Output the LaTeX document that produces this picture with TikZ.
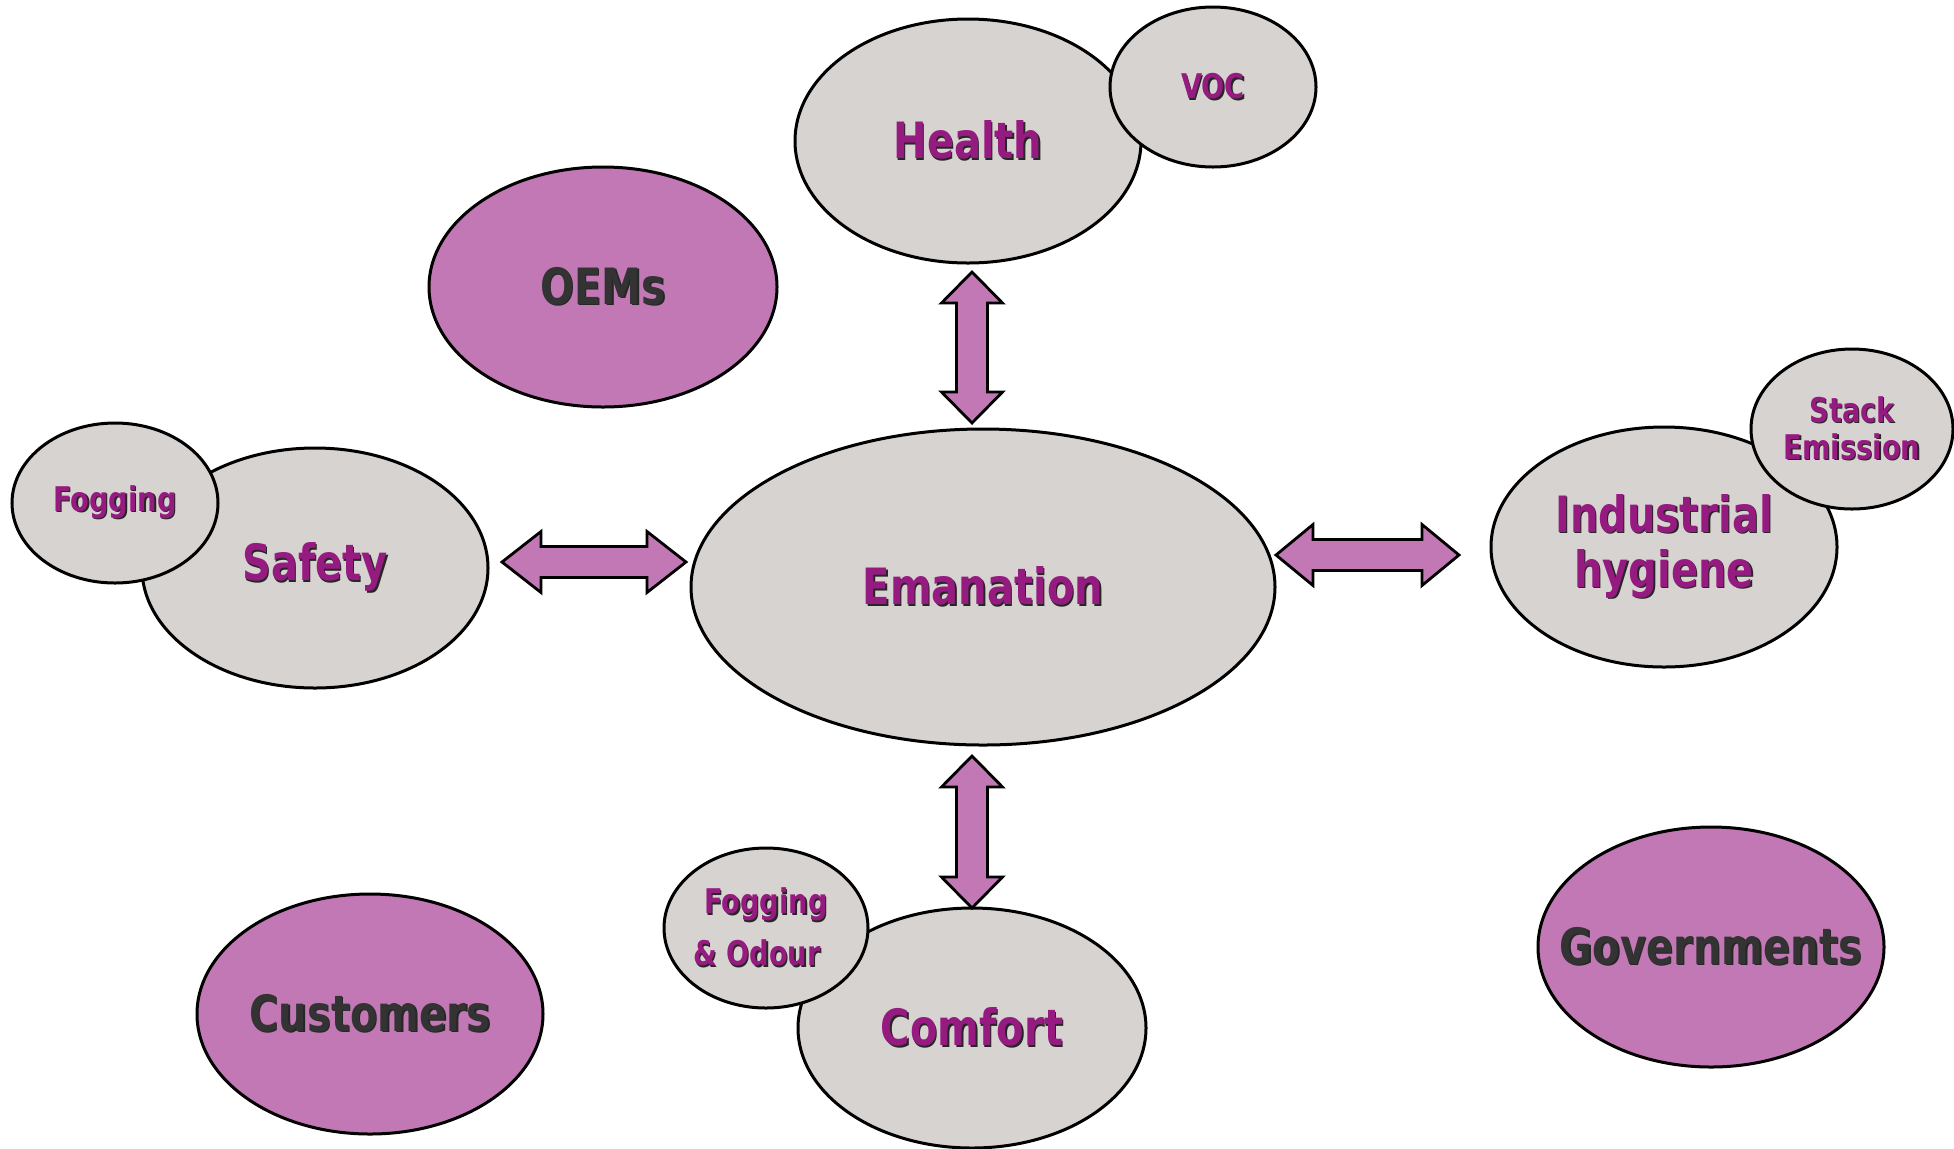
\documentclass[tikz,border=0pt]{standalone}
\usepackage{fontspec}
\usetikzlibrary{shapes.geometric}
\newfontfamily\labfont{DejaVu Sans Condensed}[FakeStretch=0.89]
\definecolor{bubblegrey}{RGB}{215,211,208}
\definecolor{stakeviolet}{RGB}{194,120,180}
\definecolor{labelviolet}{RGB}{149,27,129}
\definecolor{labeldark}{RGB}{51,51,51}
% text with a small dark drop shadow
\newcommand\txtshadow[1]{\rlap{\hspace{0.7pt}\raisebox{-0.7pt}{\color{black!85}#1}}#1}
\tikzset{
  bigtext/.style={text=labelviolet, align=center, inner sep=0pt,
    font=\labfont\bfseries\fontsize{25}{27.5}\selectfont},
  smalltext/.style={bigtext, font=\labfont\bfseries\fontsize{17}{18.5}\selectfont},
  darktext/.style={bigtext, text=labeldark},
  % the ellipse keeps its own size; the caption sits on its centre
  bubble/.style={ellipse, draw=black, line width=1.5pt, fill=bubblegrey,
    inner sep=0pt, label={[bigtext]center:#1}},
  smallbubble/.style={ellipse, draw=black, line width=1.5pt, fill=bubblegrey,
    inner sep=0pt, label={[smalltext]center:#1}},
  stake/.style={ellipse, draw=black, line width=1.5pt, fill=stakeviolet,
    inner sep=0pt, label={[darktext]center:#1}},
  arrowbody/.style={fill=stakeviolet, draw=black, line width=1.4pt, line join=miter},
  pics/dblarrow/.style args={#1/#2}{code={
    \draw[arrowbody] (-#1,0) -- (-#1+#2,30.5) -- (-#1+#2,15.5) -- (#1-#2,15.5)
      -- (#1-#2,30.5) -- (#1,0) -- (#1-#2,-30.5) -- (#1-#2,-15.5)
      -- (-#1+#2,-15.5) -- (-#1+#2,-30.5) -- cycle;}}
}
\begin{document}
\begin{tikzpicture}[x=0.5pt, y=-0.5pt]
\useasboundingbox (0,0) rectangle (1954,1148);

% stakeholders
\node[stake={\txtshadow{OEMs}}, minimum width=174pt, minimum height=120pt] (oems) at (603,287) {};
\node[stake={\txtshadow{Customers}}, minimum width=173pt, minimum height=120pt] (customers) at (370,1014) {};
\node[stake={\txtshadow{Governments}}, minimum width=173pt, minimum height=120pt] (governments) at (1711,947) {};

% central topic
\node[bubble={\txtshadow{Emanation}}, minimum width=292pt, minimum height=158pt] (emanation) at (983,587) {};

% surrounding topics with their sub-topics
\node[bubble={\txtshadow{Health}}, minimum width=173pt, minimum height=122pt] (health) at (968,141) {};
\node[smallbubble={\txtshadow{VOC}}, minimum width=103pt, minimum height=80pt] (voc) at (1213,87) {};

\node[bubble={\txtshadow{Safety}}, minimum width=173pt, minimum height=120pt] (safety) at (315,568) {};
\node[smallbubble={\txtshadow{Fogging}}, minimum width=103pt, minimum height=80pt] (fogging) at (115,503) {};

\node[bubble={\txtshadow{Industrial}\\\txtshadow{hygiene}}, minimum width=173pt, minimum height=120pt] (hygiene) at (1664,547) {};
\node[smallbubble={\txtshadow{Stack}\\\txtshadow{Emission}}, minimum width=101pt, minimum height=80pt] (stack) at (1852,429) {};

\node[bubble={\txtshadow{Comfort}}, minimum width=174pt, minimum height=120pt] (comfort) at (972,1028) {};
\node[smallbubble={\txtshadow{Fogging}\\[7.5pt]\txtshadow{\& Odour}\hspace*{9pt}}, minimum width=102pt, minimum height=80pt] (odour) at (766,928) {};

% two-way block arrows between the centre and each topic
\coordinate (a-health) at (972,347.5);
\coordinate (a-comfort) at (972,832);
\coordinate (a-safety) at (594,562);
\coordinate (a-hygiene) at (1367.5,555);
\pic[rotate=90] at (a-health) {dblarrow=75.5/31};
\pic[rotate=90] at (a-comfort) {dblarrow=76/31};
\pic at (a-safety) {dblarrow=92/39};
\pic at (a-hygiene) {dblarrow=91.5/37};
\end{tikzpicture}
\end{document}
